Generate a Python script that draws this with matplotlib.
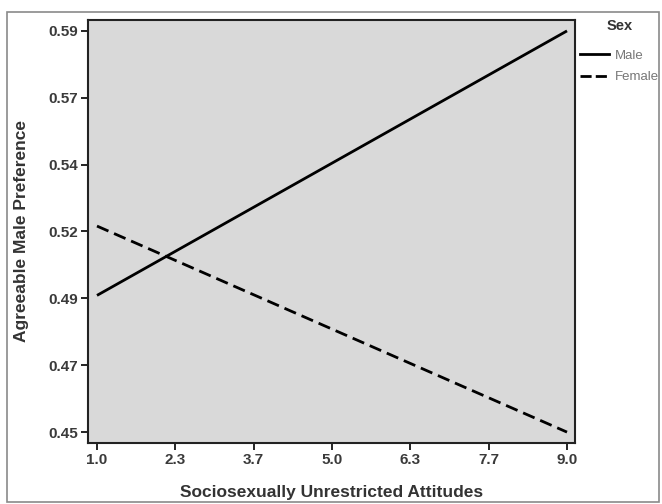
import matplotlib
matplotlib.use("Agg")
import matplotlib.pyplot as plt
from matplotlib.patches import Rectangle
from matplotlib.lines import Line2D

# Data
x_ticks = [1.0, 2.333, 3.667, 5.0, 6.333, 7.667, 9.0]
x_tick_labels = ["1.0", "2.3", "3.7", "5.0", "6.3", "7.7", "9.0"]
y_ticks = [0.45, 0.4733, 0.4967, 0.52, 0.5433, 0.5667, 0.59]
y_tick_labels = ["0.45", "0.47", "0.49", "0.52", "0.54", "0.57", "0.59"]
x_vals = [1.0, 9.0]
male_vals = [0.4977, 0.59]
female_vals = [0.5219, 0.45]

plt.rcParams['font.family'] = ['Liberation Sans', 'DejaVu Sans']

fig = plt.figure(figsize=(6.62, 5.04), dpi=100)
fig.patch.set_facecolor('white')
# outer frame
fig.patches.append(Rectangle((7/662, 2/504), 652/662, 1 - 12/504 - 2/504,
                             transform=fig.transFigure, fill=False,
                             edgecolor='#8a8a8a', linewidth=1.2))

ax = fig.add_axes([88/662, 1 - 443/504, (575 - 88)/662, (443 - 20)/504])
ax.set_facecolor('#d9d9d9')

ax.plot(x_vals, male_vals, color='black', linewidth=2.0, solid_capstyle='butt')
ax.plot(x_vals, female_vals, color='black', linewidth=2.0, dashes=(4.5, 2.2))

ax.set_xlim(0.847, 9.136)
ax.set_ylim(0.4462, 0.5938)
ax.set_xticks(x_ticks)
ax.set_xticklabels(x_tick_labels)
ax.set_yticks(y_ticks)
ax.set_yticklabels(y_tick_labels)
ax.tick_params(direction='out', length=5, width=1.2, colors='black',
               labelsize=11, labelcolor='#3a3a3a', pad=2)
for lab in ax.get_xticklabels() + ax.get_yticklabels():
    lab.set_fontweight('bold')
for s in ax.spines.values():
    s.set_linewidth(1.5)
    s.set_color('#222222')

ax.set_xlabel("Sociosexually Unrestricted Attitudes", fontsize=12.5,
              fontweight='bold', color='#333333', labelpad=13)
ax.set_ylabel("Agreeable Male Preference", fontsize=12.5,
              fontweight='bold', color='#333333', labelpad=14)

# legend
handles = [Line2D([0], [0], color='black', linewidth=2.0),
           Line2D([0], [0], color='black', linewidth=2.0, dashes=(4, 1.5))]
leg = fig.legend(handles, ["Male", "Female"], title="Sex",
                 loc='upper left', bbox_to_anchor=(580/662, 1 - 19/504),
                 frameon=False, fontsize=9.5, title_fontsize=10.5,
                 handlelength=2.2, handletextpad=0.45, labelspacing=0.7,
                 borderaxespad=0, borderpad=0)
leg.get_title().set_fontweight('bold')
leg.get_title().set_color('#333333')
leg._legend_box.sep = 12
for t in leg.get_texts():
    t.set_color('#777777')

fig.savefig("out.png", dpi=100, facecolor='white')
